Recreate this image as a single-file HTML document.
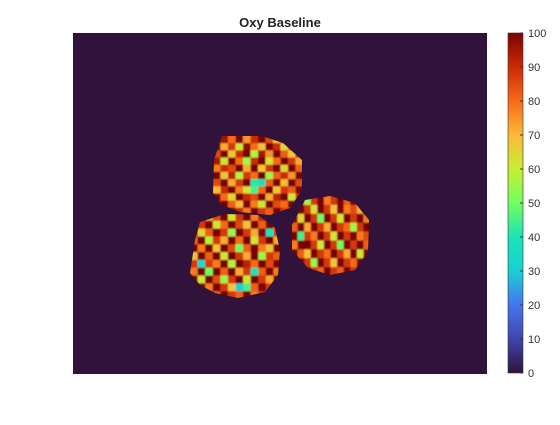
<!DOCTYPE html>
<html><head><meta charset="utf-8"><style>
body{margin:0;background:#fff;width:560px;height:420px;overflow:hidden;font-family:"Liberation Sans",sans-serif}
</style></head><body>
<svg id="chart" width="560" height="420" xmlns="http://www.w3.org/2000/svg">
<defs>
<linearGradient id="turbo" x1="0" y1="1" x2="0" y2="0">
<stop offset="0" stop-color="#30123b"/><stop offset="0.1" stop-color="#4145ab"/><stop offset="0.2" stop-color="#4675ed"/>
<stop offset="0.3" stop-color="#1bcfd4"/><stop offset="0.4" stop-color="#1ae4b6"/><stop offset="0.5" stop-color="#71fe5f"/>
<stop offset="0.6" stop-color="#c7ef34"/><stop offset="0.7" stop-color="#fbb938"/><stop offset="0.8" stop-color="#f66b19"/>
<stop offset="0.9" stop-color="#ca2a04"/><stop offset="1" stop-color="#7a0403"/>
</linearGradient>
<filter id="soft" x="-5%" y="-5%" width="110%" height="110%"><feGaussianBlur stdDeviation="0.9"/></filter>
<clipPath id="c1"><polygon points="222,136 262,136 283,143 302,160 302,190 290,208 270,215 240,212 222,205 213,193 214,160"/></clipPath>
<clipPath id="c2"><polygon points="200,222 225,214 258,215 275,228 280,250 278,275 265,292 238,298 215,293 200,285 190,273 195,240"/></clipPath>
<clipPath id="c3"><polygon points="305,200 330,196 355,203 369,220 368,252 355,270 330,275 308,268 292,250 292,225"/></clipPath>
</defs>
<text x="280" y="27" text-anchor="middle" font-size="13" font-weight="bold" fill="#222">Oxy Baseline</text>
<rect x="73" y="33" width="414" height="341" fill="#30123b"/>
<g id="blobs"></g>
<rect x="508" y="33" width="15" height="340" fill="url(#turbo)" stroke="#333" stroke-width="0.6"/>
<g id="cbticks"></g>
</svg>
<script>
const cbTicks=[0,10,20,30,40,50,60,70,80,90,100];
const blob1Vals=[
[92,96,80,100,75,90,100,85,70,88,100,85],
[100,72,88,62,98,80,68,100,90,65,85,100],
[85,100,68,90,100,58,95,75,100,82,68,92],
[95,62,100,80,55,90,100,62,80,100,88,72],
[78,90,85,100,72,100,68,88,100,65,100,82],
[100,68,92,58,88,80,100,55,82,90,75,100],
[85,100,72,88,100,42,38,82,100,70,100,85],
[70,90,100,78,62,45,80,100,68,88,82,100],
[100,80,65,100,90,85,100,72,92,100,62,90],
[90,100,82,70,100,78,62,100,85,80,100,78],
[80,85,100,90,78,100,88,82,100,88,82,100]];
const blob2Vals=[
[90,100,72,85,100,62,88,100,78,92,82,100],
[72,88,100,62,80,100,85,68,100,82,100,78],
[100,65,82,100,88,55,100,88,72,100,40,88],
[82,100,58,88,72,100,80,100,62,88,100,72],
[100,78,100,68,100,85,50,82,100,78,68,100],
[68,100,82,100,62,100,88,72,100,55,88,82],
[88,35,88,78,100,58,100,92,80,100,85,100],
[78,100,50,100,82,100,72,88,40,82,100,78],
[100,62,100,85,55,88,100,62,100,88,72,100],
[82,100,78,100,88,68,30,45,82,100,88,82],
[88,72,100,82,100,88,82,100,78,88,100,88]];
const blob3Vals=[
[100,82,55,88,100,78,88,100,82,100,88,82],
[78,100,88,62,100,88,68,100,78,85,72,100],
[100,65,100,88,50,100,88,62,100,88,100,78],
[82,100,72,100,88,72,100,88,80,55,88,100],
[100,45,88,78,100,88,62,100,88,100,78,85],
[78,100,100,88,62,100,88,50,100,88,100,82],
[100,82,68,100,88,80,100,88,72,100,62,100],
[88,100,88,55,100,88,68,100,88,80,100,88],
[100,72,100,88,82,100,88,82,100,88,82,100]];
const blobs=[{vals:blob1Vals,x0:213,x1:303,y0:136,y1:215,clip:'c1'},
{vals:blob2Vals,x0:190,x1:281,y0:213,y1:299,clip:'c2'},
{vals:blob3Vals,x0:291,x1:370,y0:196,y1:276,clip:'c3'}];
const NS='http://www.w3.org/2000/svg';
const stops=[[48,18,59],[65,69,171],[70,117,237],[27,207,212],[26,228,182],[113,254,95],[199,239,52],[251,185,56],[246,107,25],[202,42,4],[122,4,3]];
function turbo(v){const t=Math.max(0,Math.min(1,v/100))*10;const i=Math.min(9,Math.floor(t)),f=t-i;
const a=stops[i],b=stops[i+1];return `rgb(${a.map((x,k)=>Math.round(x+(b[k]-x)*f)).join(',')})`;}
const gB=document.getElementById('blobs');
blobs.forEach((bl,i)=>{const g=document.createElementNS(NS,'g');


g.setAttribute('clip-path',`url(#${bl.clip})`);
const inner=document.createElementNS(NS,'g');inner.setAttribute('filter','url(#soft)');
const rows=bl.vals.length,cols=bl.vals[0].length;const cw=(bl.x1-bl.x0)/cols,ch=(bl.y1-bl.y0)/rows;
const pad=6;
bl.vals.forEach((row,r)=>row.forEach((v,c)=>{const rc=document.createElementNS(NS,'rect');


let x=bl.x0+c*cw,y=bl.y0+r*ch,w=cw+0.5,h=ch+0.5;
if(c===0){x-=pad;w+=pad;} if(c===cols-1){w+=pad;} if(r===0){y-=pad;h+=pad;} if(r===rows-1){h+=pad;}
rc.setAttribute('x',x);rc.setAttribute('y',y);rc.setAttribute('width',w);rc.setAttribute('height',h);rc.setAttribute('fill',turbo(v));inner.appendChild(rc);}));
g.appendChild(inner);gB.appendChild(g);});
const gT=document.getElementById('cbticks');
const cy=v=>373-v/100*340;
cbTicks.forEach(v=>{const l=document.createElementNS(NS,'line');


l.setAttribute('x1',520);l.setAttribute('x2',523);l.setAttribute('y1',cy(v));l.setAttribute('y2',cy(v));l.setAttribute('stroke','#333');gT.appendChild(l);
const t=document.createElementNS(NS,'text');


t.setAttribute('x',528);t.setAttribute('y',cy(v)+4);t.setAttribute('font-size','11');t.setAttribute('fill','#333');t.textContent=v;gT.appendChild(t);});
</script>
</body></html>
